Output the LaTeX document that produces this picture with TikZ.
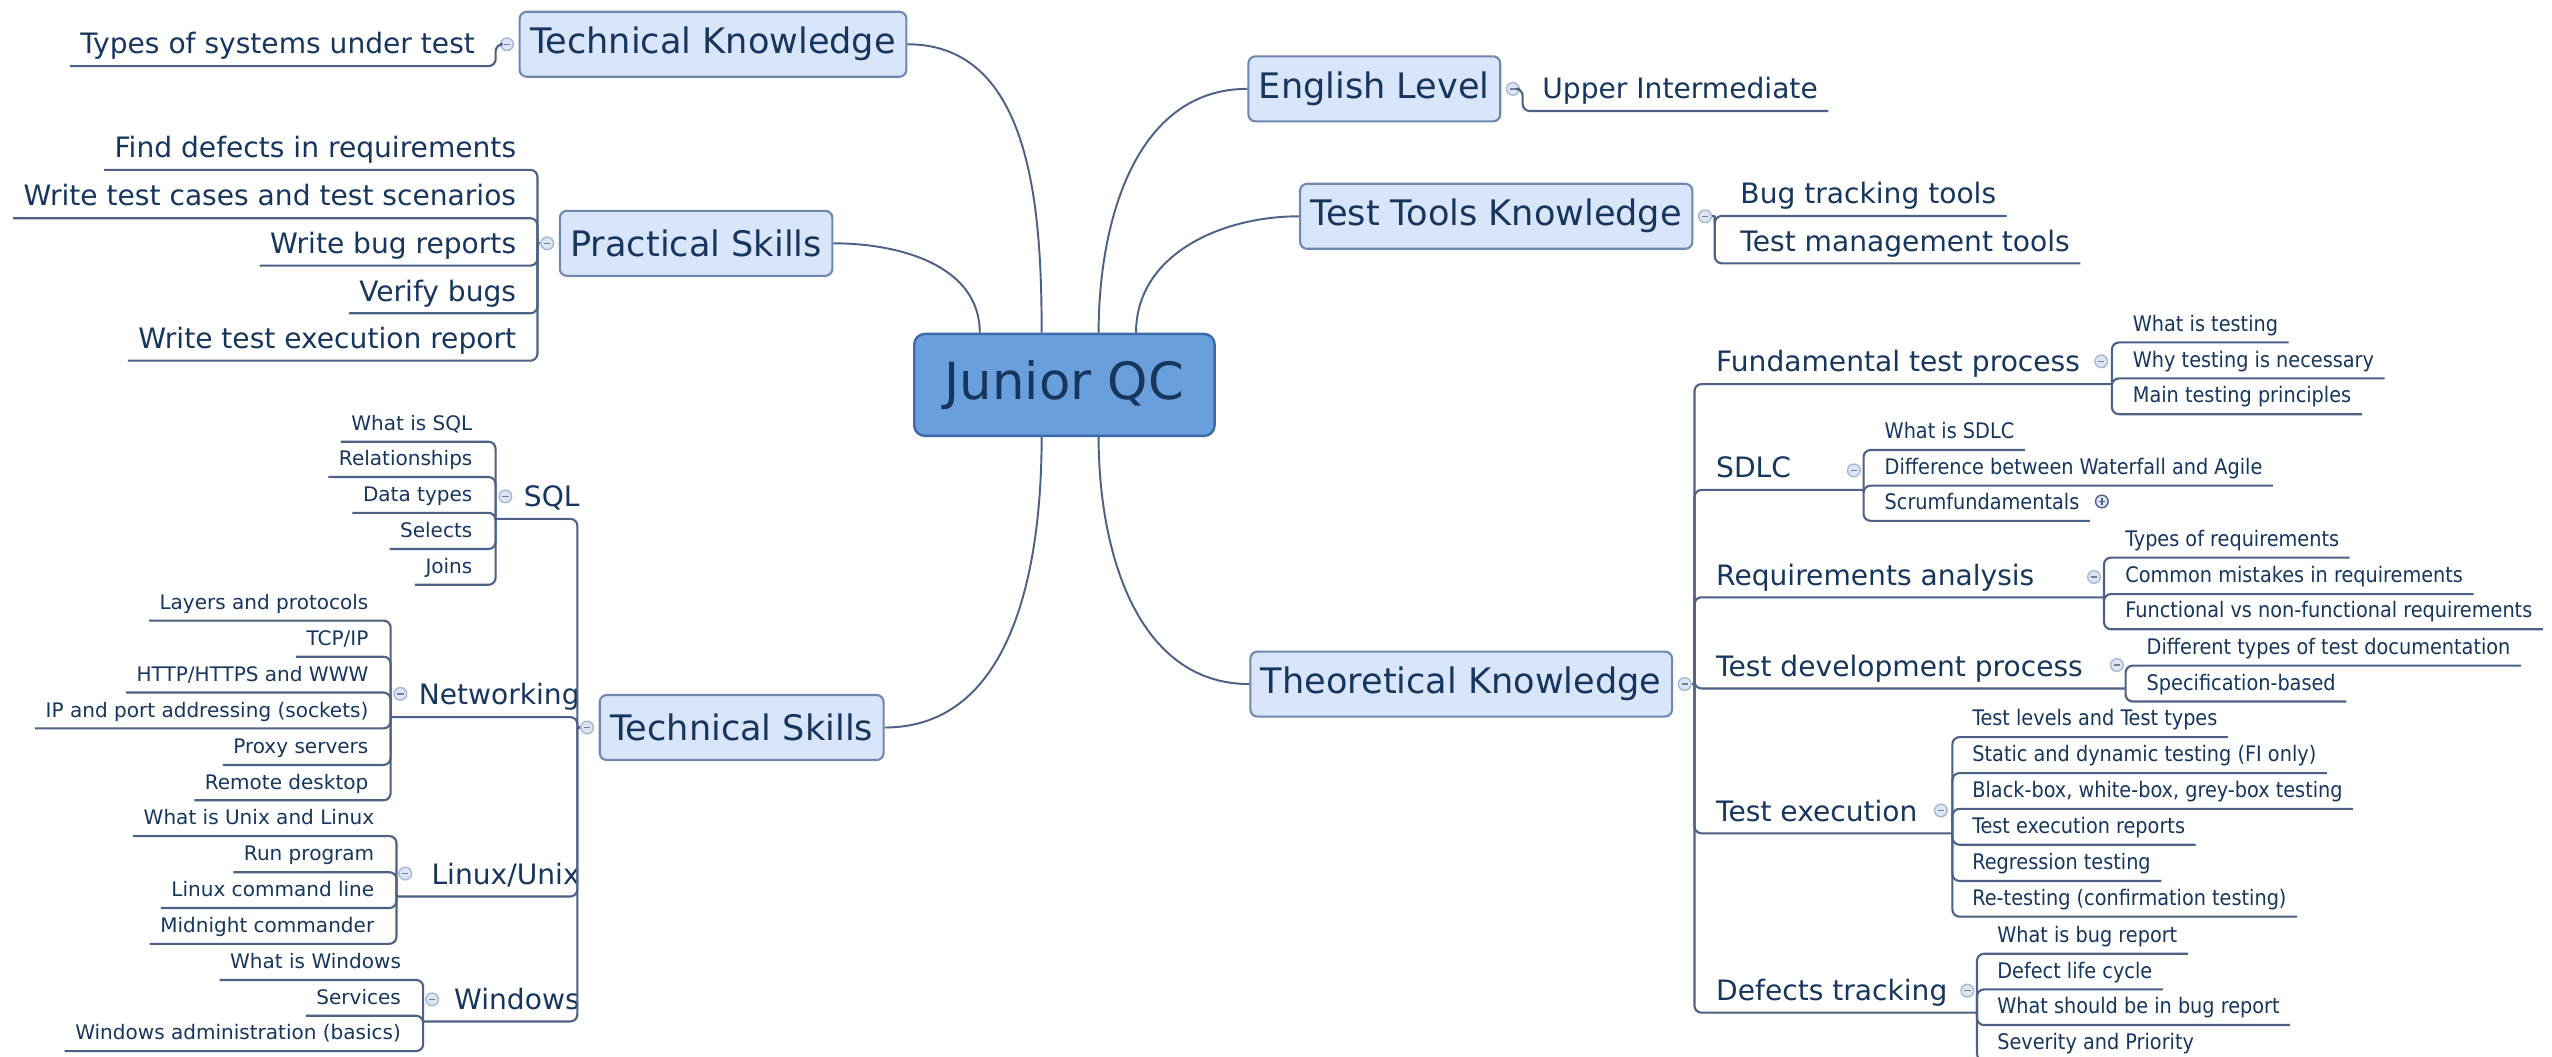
\documentclass[tikz,border=0pt]{standalone}
\usepackage{fontspec}
\setmainfont{DejaVu Sans}
\newfontfamily\condfont{DejaVu Sans Condensed}
\usepackage{xcolor}
\usepackage{tikz}
\usetikzlibrary{positioning,calc}
\definecolor{mainblue}{HTML}{6A9FDD}
\definecolor{mainedge}{HTML}{3D6AA8}
\definecolor{boxblue}{HTML}{D9E5FA}
\definecolor{boxedge}{HTML}{7088B0}
\definecolor{inkblue}{HTML}{17365D}
\definecolor{linkgray}{HTML}{4C6185}
\definecolor{mkfill}{HTML}{DCE5F3}
\definecolor{mkedge}{HTML}{A8B8D0}

\begin{document}
\begin{tikzpicture}[
  x=0.016276cm, y=-0.016276cm,
  root/.style={draw=mainedge, fill=mainblue, line width=0.7pt, rounded corners=3pt,
               minimum width=85.5pt, minimum height=29pt,
               font=\fontsize{14.6}{17}\selectfont, text=inkblue},
  topic/.style={draw=boxedge, fill=boxblue, line width=0.6pt, rounded corners=2pt,
                minimum height=18.5pt, inner xsep=3pt,
                font=\fontsize{10}{12}\selectfont, text=inkblue},
  ul/.style={inner xsep=2.8pt, inner ysep=3.3pt, text depth=0pt, text=inkblue,
             font=\fontsize{8}{10}\selectfont},
  lf/.style={ul, anchor=south east},
  rt/.style={ul, anchor=south west},
  lfs/.style={lf, inner ysep=3pt, font=\fontsize{5.7}{7}\selectfont},
  rts/.style={rt, inner ysep=3pt, font=\condfont\fontsize{6.1}{7}\selectfont},
  mkbase/.style={circle, draw=mkedge, fill=mkfill, line width=0.4pt,
                 inner sep=0pt, minimum size=3.6pt},
  mk/.style={mkbase, path picture={\draw[mkedge!70!black, line width=0.4pt]
      ([xshift=-0.9pt]path picture bounding box.center) --
      ([xshift=0.9pt]path picture bounding box.center);}},
  mkp/.style={mkbase, draw=linkgray, path picture={\draw[linkgray, line width=0.4pt]
      ([xshift=-0.9pt]path picture bounding box.center) --
      ([xshift=0.9pt]path picture bounding box.center)
      ([yshift=-0.9pt]path picture bounding box.center) --
      ([yshift=0.9pt]path picture bounding box.center);}},
  e/.style={draw=linkgray, line width=0.6pt, rounded corners=2pt},
  br/.style={draw=linkgray, line width=0.55pt}
]
  \path[fill=white, use as bounding box] (0,0) rectangle (1568,649);

  % nodo central y temas principales
  \node[root]  (jqc) at (654,236.5)   {Junior QC};
  \node[topic] (tk)  at (438.1,27.2)  {Technical Knowledge};
  \node[topic] (ps)  at (427.7,149.5) {Practical Skills};
  \node[topic] (el)  at (844.4,54.6)  {English Level};
  \node[topic] (ttk) at (919.3,132.9) {Test Tools Knowledge};
  \node[topic] (ts)  at (455.7,447)   {Technical Skills};
  \node[topic] (thk) at (897.8,420.3) {Theoretical Knowledge};
  % marcadores de los temas
  \node[mk, left=1.3pt of tk]   (tkm)  {};
  \node[mk, left=1.3pt of ps]   (psm)  {};
  \node[mk, right=1.3pt of el]  (elm)  {};
  \node[mk, right=1.3pt of ttk] (ttkm) {};
  \node[mk, left=1.3pt of ts]   (tsm)  {};
  \node[mk, right=1.3pt of thk] (thkm) {};

  % hojas arriba a la izquierda
  \node[lf] (tys) at (298.3,40.6)  {Types of systems under test};
  \node[lf] (fdr) at (323.6,104.4) {Find defects in requirements};
  \node[lf] (wtc) at (323.6,134.1) {Write test cases and test scenarios};
  \node[lf] (wbr) at (323.6,163.2) {Write bug reports};
  \node[lf] (vbg) at (323.6,192.5) {Verify bugs};
  \node[lf] (wte) at (323.6,221.6) {Write test execution report};
  % hojas arriba a la derecha
  \node[rt] (upi) at (941.2,68.2)   {Upper Intermediate};
  \node[rt] (btt) at (1062.9,132.7) {Bug tracking tools};
  \node[rt] (tmt) at (1062.9,161.8) {Test management tools};

  % Theoretical Knowledge: subtemas
  \node[rt] (ftp)  at (1048,236)   {Fundamental test process};
  \node[rt] (sdlc) at (1048,301)   {SDLC};
  \node[rt] (rqa)  at (1048,367)   {Requirements analysis};
  \node[rt] (tdp)  at (1048,423)   {Test development process};
  \node[rt] (tec)  at (1048,512)   {Test execution};
  \node[rt] (dft)  at (1048,622.2) {Defects tracking};
  \node[mk] (ftpm)  at (1291,222)    {};
  \node[mk] (sdlcm) at (1139,289)    {};
  \node[mk] (rqam)  at (1286.6,354.5){};
  \node[mk] (tdpm)  at (1300.6,408.6){};
  \node[mk] (tecm)  at (1192.5,498)  {};
  \node[mk] (dftm)  at (1208.8,608.7){};
  \coordinate (ftpx)  at (1297.6,236);
  \coordinate (sdlcx) at (1145,301);
  \coordinate (rqax)  at (1292.7,367);
  \coordinate (tdpx)  at (1306,423);
  \coordinate (tecx)  at (1199.6,512);
  \coordinate (dftx)  at (1214.7,622.2);
  % Theoretical Knowledge: hojas
  \node[rts] (wit) at (1304,210.4)   {What is testing};
  \node[rts] (wtn) at (1304,232.5)   {Why testing is necessary};
  \node[rts] (mtp) at (1304,254.5)   {Main testing principles};
  \node[rts] (wis) at (1151.5,276.5) {What is SDLC};
  \node[rts] (dwa) at (1151.5,298.4) {Difference between Waterfall and Agile};
  \node[rts] (scf) at (1151.5,320)   {Scrumfundamentals};
  \node[mkp, right=1.4pt of scf] (scfm) {};
  \node[rts] (tor) at (1299.4,342.6) {Types of requirements};
  \node[rts] (cmr) at (1299.4,365)   {Common mistakes in requirements};
  \node[rts] (fnr) at (1299.4,386.6) {Functional vs non-functional requirements};
  \node[rts] (dtd) at (1312.5,409)   {Different types of test documentation};
  \node[rts] (spb) at (1312.5,431)   {Specification-based};
  \node[rts] (tlt) at (1205.4,452.9) {Test levels and Test types};
  \node[rts] (sdt) at (1205.4,475)   {Static and dynamic testing (FI only)};
  \node[rts] (bwg) at (1205.4,497)   {Black-box, white-box, grey-box testing};
  \node[rts] (ter) at (1205.4,519)   {Test execution reports};
  \node[rts] (rgt) at (1205.4,541.3) {Regression testing};
  \node[rts] (rtc) at (1205.4,563.2) {Re-testing (confirmation testing)};
  \node[rts] (wbg) at (1220.7,586)   {What is bug report};
  \node[rts] (dlc) at (1220.7,607.9) {Defect life cycle};
  \node[rts] (wsb) at (1220.7,629.8) {What should be in bug report};
  \node[rts] (sap) at (1220.7,651.7) {Severity and Priority};

  % Technical Skills: subtemas
  \node[lf] (sql) at (362.6,318.8) {SQL};
  \node[lf] (net) at (362.6,440.6) {Networking};
  \node[lf] (lnx) at (362.6,550.8) {Linux/Unix};
  \node[lf] (win) at (362.6,627.6) {Windows};
  \node[mk] (sqlm) at (310.5,305)   {};
  \node[mk] (netm) at (246,426.3)   {};
  \node[mk] (lnxm) at (249,536.7)   {};
  \node[mk] (winm) at (265.5,614)   {};
  \coordinate (sqlx) at (304.5,318.8);
  \coordinate (netx) at (240,440.6);
  \coordinate (lnxx) at (243.6,550.8);
  \coordinate (winx) at (260,627.6);
  % Technical Skills: hojas
  \node[lfs] (wsq) at (296.7,271.4) {What is SQL};
  \node[lfs] (rel) at (296.7,293.1) {Relationships};
  \node[lfs] (dty) at (296.7,315.1) {Data types};
  \node[lfs] (sel) at (296.7,337.3) {Selects};
  \node[lfs] (joi) at (296.7,359.3) {Joins};
  \node[lfs] (lap) at (232.8,381.3) {Layers and protocols};
  \node[lfs] (tcp) at (232.8,403.5) {TCP/IP};
  \node[lfs] (htw) at (232.8,425.5) {HTTP/HTTPS and WWW};
  \node[lfs] (ipa) at (232.8,447.5) {IP and port addressing (sockets)};
  \node[lfs] (pxs) at (232.8,470)   {Proxy servers};
  \node[lfs] (rmd) at (232.8,491.7) {Remote desktop};
  \node[lfs] (wul) at (236.4,513.7) {What is Unix and Linux};
  \node[lfs] (rpg) at (236.4,535.9) {Run program};
  \node[lfs] (lcl) at (236.4,557.9) {Linux command line};
  \node[lfs] (mdc) at (236.4,579.9) {Midnight commander};
  \node[lfs] (wiw) at (252.8,602.1) {What is Windows};
  \node[lfs] (svc) at (252.8,624.1) {Services};
  \node[lfs] (wad) at (252.8,645.8) {Windows administration (basics)};

  % ramas curvas desde el centro
  \coordinate (jt1) at ($(jqc.north)+(-52,0)$);
  \coordinate (jt2) at ($(jqc.north)+(-14,0)$);
  \coordinate (jt3) at ($(jqc.north)+(21,0)$);
  \coordinate (jt4) at ($(jqc.north)+(44,0)$);
  \coordinate (jb1) at ($(jqc.south)+(-14,0)$);
  \coordinate (jb2) at ($(jqc.south)+(21,0)$);
  \draw[br] (jt2) to[out=90,in=0]    (tk.east);
  \draw[br] (jt1) to[out=90,in=0]    (ps.east);
  \draw[br] (jt3) to[out=90,in=180]  (el.west);
  \draw[br] (jt4) to[out=90,in=180]  (ttk.west);
  \draw[br] (jb1) to[out=-90,in=0]   (ts.east);
  \draw[br] (jb2) to[out=-90,in=180] (thk.west);

  % troncos de los temas
  \coordinate (tkx)  at ($(tkm)+(-7,0)$);
  \coordinate (psx)  at ($(psm)+(-6,0)$);
  \coordinate (elx)  at ($(elm)+(6,0)$);
  \coordinate (ttkx) at ($(ttkm)+(6,0)$);
  \coordinate (tsx)  at ($(tsm)+(-6,0)$);
  \coordinate (thkx) at ($(thkm)+(6,0)$);
  \draw[e] (tkm) -- (tkx) |- (tys.south west);
  \draw[e] (psm) -- (psx);
  \draw[e] (psx) |- (fdr.south west);
  \draw[e] (psx) |- (wtc.south west);
  \draw[e] (psx) |- (wbr.south west);
  \draw[e] (psx) |- (vbg.south west);
  \draw[e] (psx) |- (wte.south west);
  \draw[e] (elm) -- (elx) |- (upi.south east);
  \draw[e] (ttkm) -- (ttkx);
  \draw[e] (ttkx) |- (btt.south east);
  \draw[e] (ttkx) |- (tmt.south east);

  % Theoretical Knowledge
  \draw[e] (thkm) -- (thkx);
  \draw[e] (thkx) |- (ftpx);
  \draw[e] (thkx) |- (sdlcx);
  \draw[e] (thkx) |- (rqax);
  \draw[e] (thkx) |- (tdpx);
  \draw[e] (thkx) |- (tecx);
  \draw[e] (thkx) |- (dftx);
  \draw[e] (ftpx) |- (wit.south east);
  \draw[e] (ftpx) |- (wtn.south east);
  \draw[e] (ftpx) |- (mtp.south east);
  \draw[e] (sdlcx) |- (wis.south east);
  \draw[e] (sdlcx) |- (dwa.south east);
  \draw[e] (sdlcx) |- (scf.south east);
  \draw[e] (rqax) |- (tor.south east);
  \draw[e] (rqax) |- (cmr.south east);
  \draw[e] (rqax) |- (fnr.south east);
  \draw[e] (tdpx) |- (dtd.south east);
  \draw[e] (tdpx) |- (spb.south east);
  \draw[e] (tecx) |- (tlt.south east);
  \draw[e] (tecx) |- (sdt.south east);
  \draw[e] (tecx) |- (bwg.south east);
  \draw[e] (tecx) |- (ter.south east);
  \draw[e] (tecx) |- (rgt.south east);
  \draw[e] (tecx) |- (rtc.south east);
  \draw[e] (dftx) |- (wbg.south east);
  \draw[e] (dftx) |- (dlc.south east);
  \draw[e] (dftx) |- (wsb.south east);
  \draw[e] (dftx) |- (sap.south east);

  % Technical Skills
  \draw[e] (tsm) -- (tsx);
  \draw[e] (tsx) |- (sqlx);
  \draw[e] (tsx) |- (netx);
  \draw[e] (tsx) |- (lnxx);
  \draw[e] (tsx) |- (winx);
  \draw[e] (sqlx) |- (wsq.south west);
  \draw[e] (sqlx) |- (rel.south west);
  \draw[e] (sqlx) |- (dty.south west);
  \draw[e] (sqlx) |- (sel.south west);
  \draw[e] (sqlx) |- (joi.south west);
  \draw[e] (netx) |- (lap.south west);
  \draw[e] (netx) |- (tcp.south west);
  \draw[e] (netx) |- (htw.south west);
  \draw[e] (netx) |- (ipa.south west);
  \draw[e] (netx) |- (pxs.south west);
  \draw[e] (netx) |- (rmd.south west);
  \draw[e] (lnxx) |- (wul.south west);
  \draw[e] (lnxx) |- (rpg.south west);
  \draw[e] (lnxx) |- (lcl.south west);
  \draw[e] (lnxx) |- (mdc.south west);
  \draw[e] (winx) |- (wiw.south west);
  \draw[e] (winx) |- (svc.south west);
  \draw[e] (winx) |- (wad.south west);
\end{tikzpicture}
\end{document}
